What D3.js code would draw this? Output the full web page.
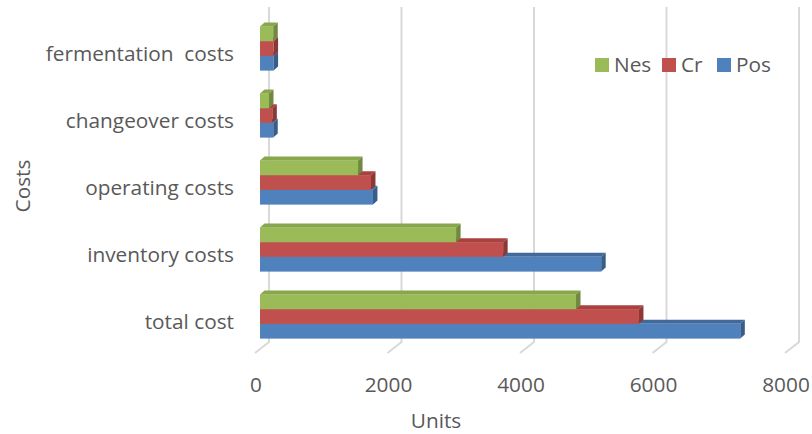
<!DOCTYPE html>
<html>
<head>
<meta charset="utf-8">
<script src="https://cdn.jsdelivr.net/npm/d3@7"></script>
<style>
  body { margin: 0; background: #fff; }
  text { font-family: "Open Sans", sans-serif; fill: #595959; }
</style>
</head>
<body>
<div id="chart"></div>
<script>
// data
const categories = ['fermentation  costs', 'changeover costs', 'operating costs', 'inventory costs', 'total cost'];
const seriesNames = ['Nes', 'Cr', 'Pos'];           // top to bottom inside a group
const nes = [200, 136, 1480, 2960, 4770];
const cr  = [205, 186, 1675, 3670, 5720];
const pos = [205, 200, 1705, 5150, 7250];
const xTicks = [0, 2000, 4000, 6000, 8000];

const values = { Nes: nes, Cr: cr, Pos: pos };

const width = 812, height = 434;
const fontSize = '20.8px';
const colors = {
  Nes: { front: '#9BBB59', top: '#88A64C', side: '#71893F' },
  Cr:  { front: '#C0504D', top: '#A9423F', side: '#8C3836' },
  Pos: { front: '#4F81BD', top: '#41699C', side: '#385D8A' }
};

const svg = d3.select('#chart').append('svg')
  .attr('width', width)
  .attr('height', height);

// bar plane scale
const x = d3.scaleLinear().domain([0, 8000]).range([260, 790]);
const y = d3.scaleBand().domain(categories).range([15, 350])
  .paddingInner(0.34).paddingOuter(0.17);
const ySub = d3.scaleBand().domain(seriesNames).range([0, y.bandwidth()]);

const depth = { dx: 4.5, dy: -4 };   // bar thickness
const wall = { dx: 9, top: 7, bottom: 342 };   // back wall offset
const floor = { dx: -5, y: 353 };

// gridlines on back wall, with the short diagonal on the floor
const grid = svg.append('g').attr('stroke', '#D9D9D9').attr('stroke-width', 2).attr('fill', 'none');
xTicks.forEach(t => {
  const bx = x(t) + wall.dx;
  grid.append('path')
    .attr('d', `M${bx},${wall.top}L${bx},${wall.bottom}L${x(t) + floor.dx},${floor.y}`);
});

// tick labels
svg.append('g').selectAll('text')
  .data(xTicks)
  .enter()
  .append('text')
  .attr('x', d => x(d) + floor.dx + 1)
  .attr('y', 392)
  .attr('text-anchor', 'middle')
  .style('font-size', fontSize)
  .text(d => d);

// category labels
svg.append('g').selectAll('text')
  .data(categories)
  .enter()
  .append('text')
  .attr('x', 234)
  .attr('y', d => y(d) + y.bandwidth() / 2 + 5)
  .attr('dy', '0.35em')
  .attr('text-anchor', 'end')
  .style('font-size', fontSize)
  .style('white-space', 'pre')
  .text(d => d);

// bars, drawn bottom bar first so the one above hides its top face
const bars = svg.append('g');
categories.forEach((cat, i) => {
  seriesNames.slice().reverse().forEach(s => {
    const v = values[s][i];
    const x0 = x(0), x1 = x(v);
    const y0 = y(cat) + ySub(s), h = ySub.bandwidth();
    const c = colors[s];
    const g = bars.append('g');
    g.append('rect')
      .attr('x', x0).attr('y', y0)
      .attr('width', x1 - x0).attr('height', h)
      .attr('fill', c.front);
    g.append('path')
      .attr('d', `M${x0},${y0}L${x0 + depth.dx},${y0 + depth.dy}L${x1 + depth.dx},${y0 + depth.dy}L${x1},${y0}Z`)
      .attr('fill', c.top);
    g.append('path')
      .attr('d', `M${x1},${y0}L${x1 + depth.dx},${y0 + depth.dy}L${x1 + depth.dx},${y0 + h + depth.dy}L${x1},${y0 + h}Z`)
      .attr('fill', c.side);
  });
});

// axis titles
svg.append('text')
  .attr('transform', 'translate(30, 186) rotate(-90)')
  .attr('text-anchor', 'middle')
  .style('font-size', fontSize)
  .text('Costs');

svg.append('text')
  .attr('x', 436)
  .attr('y', 428)
  .attr('text-anchor', 'middle')
  .style('font-size', fontSize)
  .text('Units');

// legend
const legendPos = { Nes: 595, Cr: 662, Pos: 717 };
const legend = svg.append('g');
seriesNames.forEach(s => {
  legend.append('rect')
    .attr('x', legendPos[s]).attr('y', 58)
    .attr('width', 14).attr('height', 14)
    .attr('fill', colors[s].front);
  legend.append('text')
    .attr('x', legendPos[s] + 19)
    .attr('y', 72)
    .style('font-size', fontSize)
    .text(s);
});
</script>
</body>
</html>
